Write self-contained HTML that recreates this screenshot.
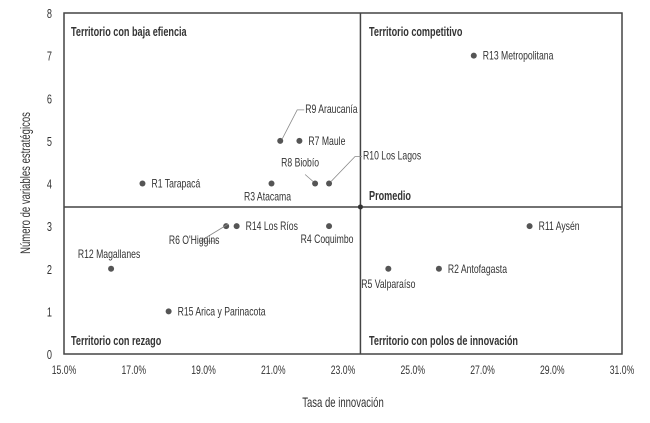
<!DOCTYPE html>
<html><head><meta charset="utf-8"><style>
body{margin:0;background:#fff;width:650px;height:418px;overflow:hidden}
svg text{font-family:"Liberation Sans Narrow","Liberation Sans",sans-serif;fill:#333}
</style></head><body>
<svg id="chart" width="650" height="418"></svg>
<script>
const names=["R1 Tarapacá","R3 Atacama","R8 Biobío","R10 Los Lagos","R9 Araucanía","R7 Maule","R13 Metropolitana","R6 O'Higgins","R14 Los Ríos","R4 Coquimbo","R12 Magallanes","R15 Arica y Parinacota","R5 Valparaíso","R2 Antofagasta","R11 Aysén"];
const xVals=[17.25,20.95,22.2,22.6,21.2,21.75,26.75,19.65,19.95,22.6,16.35,18.0,24.3,25.75,28.35];
const yVals=[4,4,4,4,5,5,7,3,3,3,2,1,2,2,3];
const xTicks=[15,17,19,21,23,25,27,29,31];
const yTicks=[0,1,2,3,4,5,6,7,8];
const avgX=23.5, avgY=3.45;
const L=64,R=622,T=13,B=354;
const sx=v=>L+(v-15)/16*(R-L);
const sy=v=>B-v/8*(B-T);
const lab=[[9,4,"start"],[-4,17,"middle"],[-15,-17,"middle",2],[34,-24,"start",1],[25,-28,"start",1],[9,4,"start"],[9,4,"start"],[-32,18,"middle",1],[9,4,"start"],[-2,17,"middle"],[-2,-11,"middle"],[9,4,"start"],[0,19,"middle"],[9,4,"start"],[9,4,"start"]];
const svg=document.getElementById('chart');const NS="http://www.w3.org/2000/svg";
function el(t,a,txt){const e=document.createElementNS(NS,t);for(const k in a)e.setAttribute(k,a[k]);if(txt!=null)e.textContent=txt;svg.appendChild(e);return e;}
function narrow(t,f){const w=t.getComputedTextLength();t.setAttribute('textLength',(w*f).toFixed(1));t.setAttribute('lengthAdjust','spacingAndGlyphs');}
let r=el('rect',{x:L,y:T,width:R-L,height:B-T,fill:'none',stroke:'#444','stroke-width':1.5});


let vl=el('line',{x1:sx(avgX),x2:sx(avgX),y1:T,y2:B,stroke:'#444','stroke-width':1.5});


let hl=el('line',{x1:L,x2:R,y1:sy(avgY),y2:sy(avgY),stroke:'#444','stroke-width':1.5});


let ad=el('circle',{cx:sx(avgX),cy:sy(avgY),r:2.5,fill:'#333'});


xTicks.forEach(v=>{let t=el('text',{x:sx(v),y:B+20,'text-anchor':'middle','font-size':12},v.toFixed(1)+'%');

narrow(t,0.72);});
yTicks.forEach(v=>{let t=el('text',{x:L-12,y:sy(v)+5,'text-anchor':'end','font-size':13},String(v));

narrow(t,0.7);});
let xt=el('text',{x:343,y:407,'text-anchor':'middle','font-size':14},'Tasa de innovación');

narrow(xt,0.68);
let yt=el('text',{x:0,y:0,'text-anchor':'middle','font-size':14,transform:'translate(30,183) rotate(-90)'},'Número de variables estratégicos');

narrow(yt,0.68);
const quads=[["Territorio con baja efiencia",71,36],["Territorio competitivo",369,36],["Territorio con rezago",71,345],["Territorio con polos de innovación",369,345],["Promedio",369,200]];
quads.forEach(q=>{let t=el('text',{x:q[1],y:q[2],'font-size':13,'font-weight':'bold'},q[0]);

narrow(t,0.7);});
names.forEach((n,i)=>{const x=sx(xVals[i]),y=sy(yVals[i]);const o=lab[i];
let c=el('circle',{cx:x,cy:y,r:3,fill:'#555'});


let tx=x+o[0],ty=y+o[1];
if(o[3]===1){let ln=el('polyline',{points:`${x+2},${y-2} ${x+(o[0]>0?o[0]-8:o[0]+6)},${ty-3} ${o[0]>0?tx-1:tx+22},${ty-3}`,fill:'none',stroke:'#888','stroke-width':0.8});

}
if(o[3]===2){let ln=el('line',{x1:x-2,y1:y-2,x2:x-10,y2:y-9,stroke:'#888','stroke-width':0.8});

}
let t=el('text',{x:tx,y:ty,'text-anchor':o[2],'font-size':12},n);

narrow(t,0.72);});
</script>
</body></html>
